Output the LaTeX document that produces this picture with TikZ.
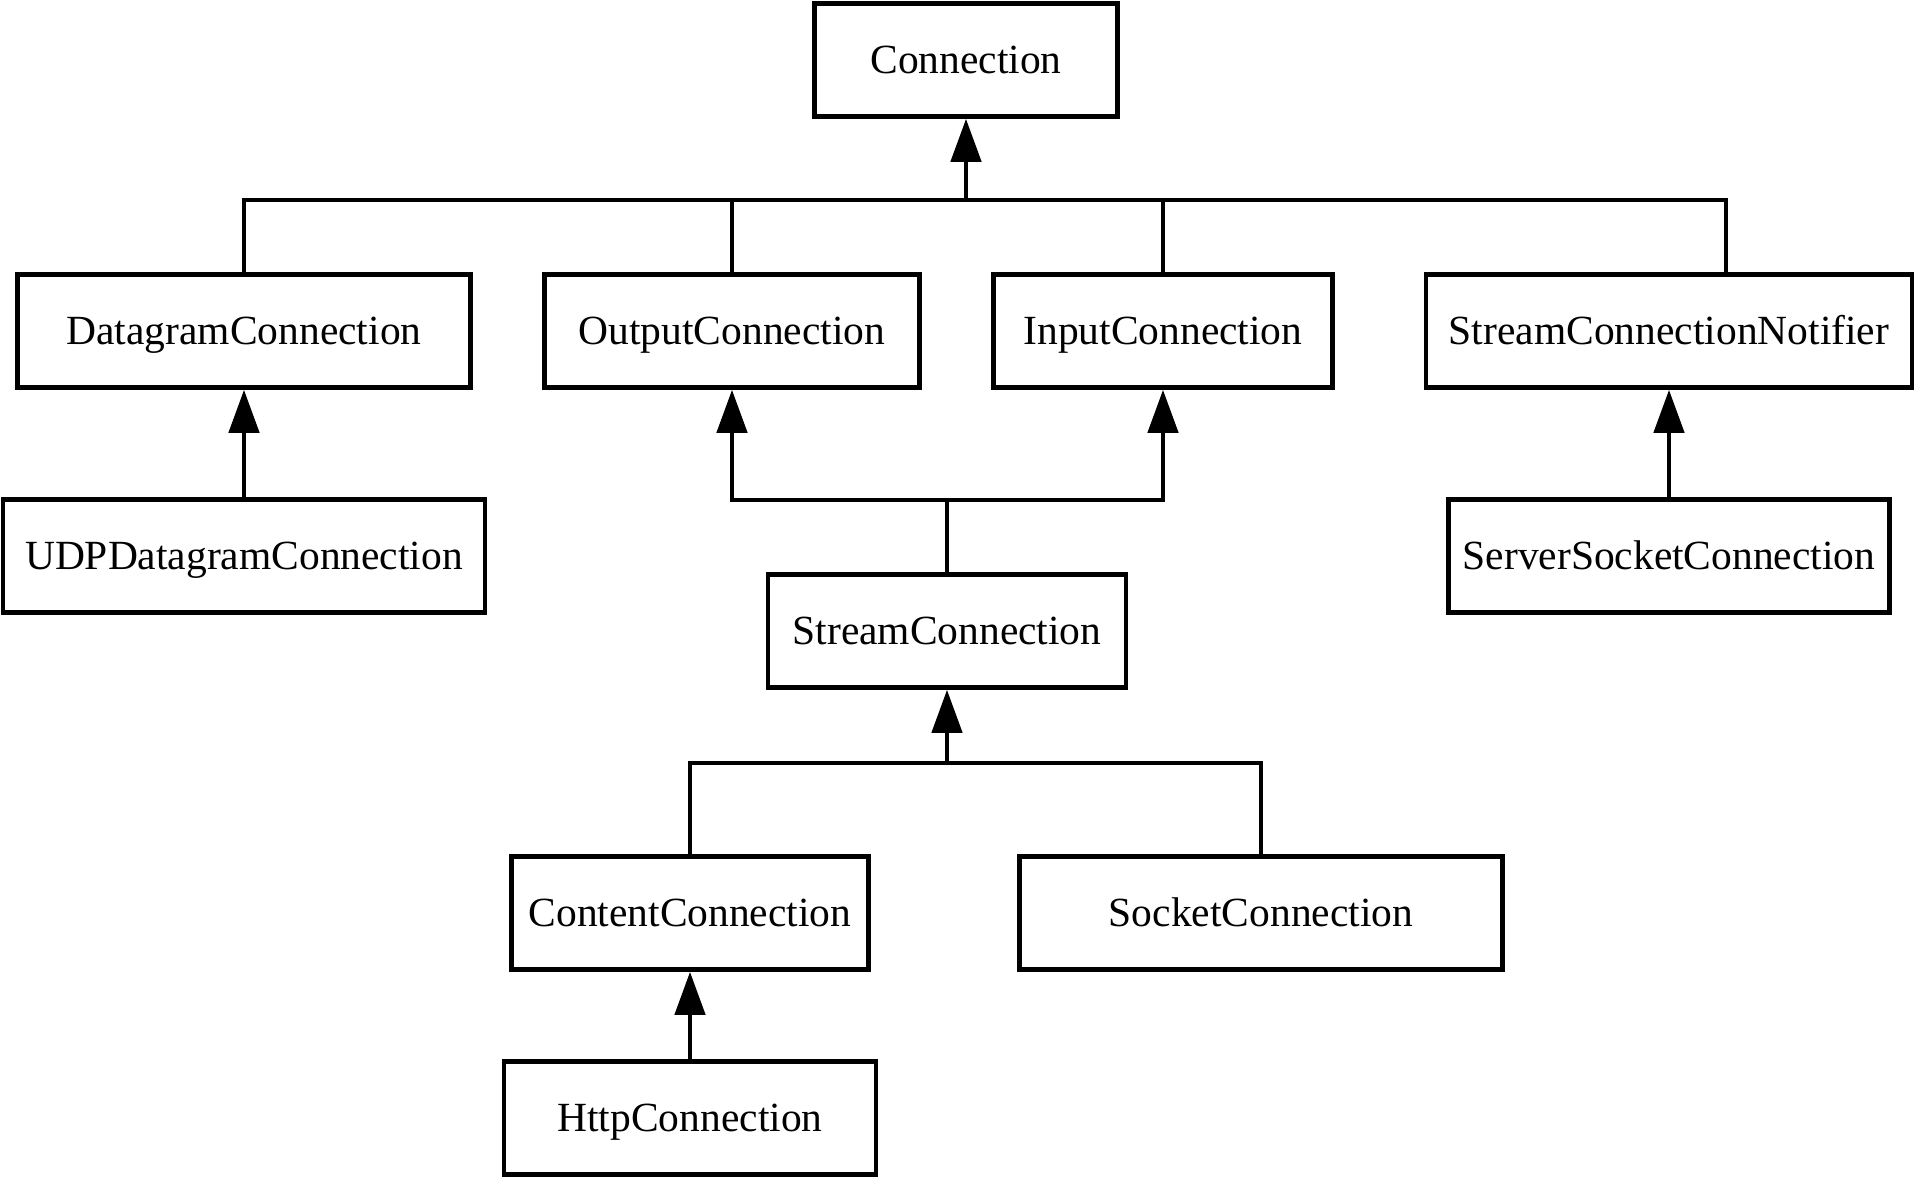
\documentclass[tikz,border=0pt]{standalone}
\usepackage{fontspec}
\setmainfont{Liberation Serif}
\usepackage{tikz}
\usetikzlibrary{arrows.meta}

\begin{document}
\begin{tikzpicture}[x=0.01cm,y=-0.01cm,
    box/.style={draw,line width=1.3pt,minimum height=1.13cm,inner sep=0pt,
      text height=10.3pt,text depth=2.5pt,
      font=\fontsize{11.8}{14}\selectfont},
    link/.style={line width=1.3pt},
    herit/.style={link,-{Triangle[length=0.43cm,width=0.30cm]}}]
    % pixel grid 1917 x 1179, y downwards
    \useasboundingbox (0,0) rectangle (1917,1179);
    \node[box,minimum width=3.03cm] (conn) at (966,60){Connection};
    \node[box,minimum width=4.53cm] (dg) at (244,331){DatagramConnection};
    \node[box,minimum width=3.75cm] (out) at (732,331){OutputConnection};
    \node[box,minimum width=3.39cm] (in) at (1163,331){InputConnection};
    \node[box,minimum width=4.86cm] (scn) at (1669,331){StreamConnectionNotifier};
    \node[box,minimum width=4.82cm] (udp) at (244,556){UDPDatagramConnection};
    \node[box,minimum width=4.41cm] (ssc) at (1669,556){ServerSocketConnection};
    \node[box,minimum width=3.58cm] (sc) at (947,631){StreamConnection};
    \node[box,minimum width=3.57cm] (cc) at (690,913){ContentConnection};
    \node[box,minimum width=4.83cm] (sock) at (1261,913){SocketConnection};
    \node[box,minimum width=3.72cm] (http) at (690,1118){HttpConnection};

    \coordinate (bus1) at (conn.south |- 0,200);
    \coordinate (scntop) at (1726,275);
    \draw[herit](bus1)--(conn.south);
    \draw[link](dg.north) |- (bus1) -| (scntop);
    \draw[link](out.north)--(out.north |- bus1);
    \draw[link](in.north)--(in.north |- bus1);

    \coordinate (bus2) at (sc.north |- 0,500);
    \draw[link](sc.north)--(bus2);
    \draw[herit](bus2) -| (out.south);
    \draw[herit](bus2) -| (in.south);

    \coordinate (bus3) at (sc.south |- 0,763);
    \draw[herit](bus3)--(sc.south);
    \draw[link](cc.north) |- (bus3) -| (sock.north);

    \draw[herit](udp.north)--(dg.south);
    \draw[herit](ssc.north)--(scn.south);
    \draw[herit](http.north)--(cc.south);
  \end{tikzpicture}
\end{document}
